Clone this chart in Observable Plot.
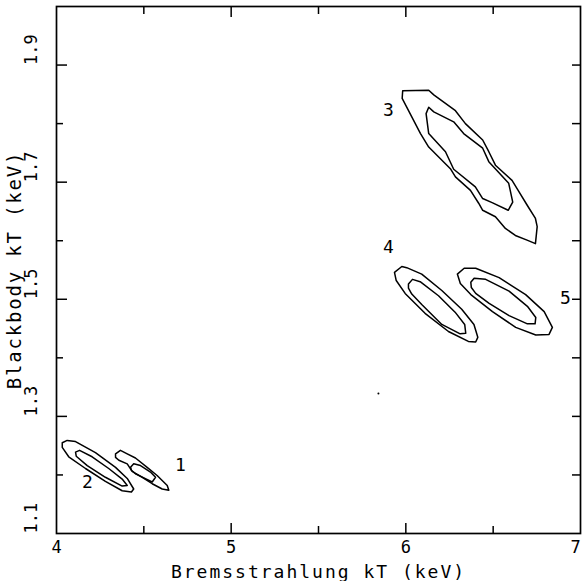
<!DOCTYPE html>
<html>
<head>
<meta charset="utf-8">
<script src="https://cdn.jsdelivr.net/npm/d3@7"></script>
<script src="https://cdn.jsdelivr.net/npm/@observablehq/plot@0.6"></script>
<style>
  html, body { margin: 0; padding: 0; background: #fff; }
  #chart svg { display: block; }
</style>
</head>
<body>
<div id="chart"></div>
<script>
// Confidence contours: [Bremsstrahlung kT, Blackbody kT] (keV)
const c1Outer = [[4.338,1.236],[4.366,1.242],[4.405,1.236],[4.452,1.229],[4.519,1.213],[4.576,1.199],[4.634,1.182],[4.643,1.174],[4.605,1.176],[4.548,1.185],[4.491,1.196],[4.433,1.206],[4.405,1.219],[4.357,1.225],[4.338,1.230]];
const c1Inner = [[4.424,1.213],[4.442,1.219],[4.481,1.216],[4.538,1.205],[4.567,1.196],[4.548,1.188],[4.500,1.195],[4.452,1.202],[4.429,1.208]];
const c2Outer = [[4.033,1.255],[4.061,1.259],[4.109,1.257],[4.223,1.238],[4.338,1.213],[4.405,1.194],[4.442,1.176],[4.429,1.171],[4.376,1.173],[4.280,1.189],[4.166,1.211],[4.070,1.231],[4.033,1.247]];
const c2Inner = [[4.109,1.239],[4.132,1.242],[4.204,1.231],[4.299,1.211],[4.376,1.193],[4.405,1.182],[4.376,1.181],[4.280,1.196],[4.176,1.216],[4.113,1.232]];
const c3Outer = [[5.982,1.856],[6.131,1.857],[6.160,1.849],[6.284,1.822],[6.341,1.800],[6.440,1.772],[6.475,1.752],[6.513,1.729],[6.608,1.703],[6.643,1.686],[6.694,1.661],[6.742,1.638],[6.752,1.624],[6.742,1.595],[6.694,1.601],[6.627,1.609],[6.570,1.621],[6.513,1.641],[6.440,1.652],[6.417,1.664],[6.370,1.686],[6.284,1.709],[6.255,1.723],[6.131,1.760],[6.084,1.783],[5.979,1.843]];
const c3Inner = [[6.131,1.828],[6.160,1.820],[6.274,1.803],[6.331,1.783],[6.440,1.758],[6.475,1.735],[6.589,1.698],[6.612,1.666],[6.586,1.652],[6.494,1.665],[6.440,1.672],[6.398,1.692],[6.274,1.722],[6.227,1.752],[6.131,1.783],[6.116,1.817]];
const c4Outer = [[5.935,1.546],[5.977,1.556],[6.005,1.554],[6.091,1.543],[6.206,1.515],[6.320,1.483],[6.390,1.457],[6.412,1.435],[6.400,1.427],[6.358,1.428],[6.244,1.445],[6.110,1.476],[5.996,1.510],[5.945,1.532]];
const c4Inner = [[6.015,1.526],[6.038,1.534],[6.082,1.530],[6.187,1.506],[6.282,1.478],[6.337,1.457],[6.343,1.442],[6.311,1.441],[6.206,1.457],[6.091,1.491],[6.034,1.509],[6.015,1.519]];
const c5Outer = [[6.295,1.543],[6.334,1.553],[6.400,1.553],[6.534,1.537],[6.686,1.508],[6.792,1.479],[6.839,1.452],[6.820,1.440],[6.744,1.439],[6.629,1.452],[6.496,1.479],[6.372,1.508],[6.312,1.527]];
const c5Inner = [[6.372,1.529],[6.391,1.536],[6.457,1.534],[6.591,1.514],[6.696,1.488],[6.744,1.469],[6.740,1.458],[6.696,1.458],[6.591,1.472],[6.477,1.493],[6.400,1.510],[6.375,1.520]];

const contourNames = ["1o","1i","2o","2i","3o","3i","4o","4i","5o","5i"];
const contourPoints = [c1Outer,c1Inner,c2Outer,c2Inner,c3Outer,c3Inner,c4Outer,c4Inner,c5Outer,c5Inner];

// Contour labels
const labelText = ["1","2","3","4","5"];
const labelX = [4.710, 4.177, 5.900, 5.900, 6.914];
const labelY = [1.216, 1.187, 1.823, 1.589, 1.502];

// stray point in the original
const strayX = [5.843];
const strayY = [1.339];

// Axis ticks
const xDomain = [4, 7];
const yDomain = [1.1, 2.0];
const xLabelTicks = [4, 5, 6];
const xEdgeLabelTicks = [7];
const xMajorTicks = [5, 6];
const xMinorTicks = [4.5, 5.5, 6.5];
const yLabelTicks = [1.1, 1.3, 1.5, 1.7, 1.9];
const yMajorTicks = [1.3, 1.5, 1.7, 1.9];
const yMinorTicks = [1.2, 1.4, 1.6, 1.8];
const yRightTicks = [1.2, 1.3, 1.4, 1.5, 1.6, 1.7, 1.8, 1.9];

const xTitle = "Bremsstrahlung kT (keV)";
const yTitle = "Blackbody kT (keV)";

const contourRows = contourNames.flatMap((name, i) =>
  contourPoints[i].map(([x, y]) => ({name, x, y})));
const labelRows = labelText.map((t, i) => ({t, x: labelX[i], y: labelY[i]}));
const strayRows = strayX.map((x, i) => ({x, y: strayY[i]}));

const FONT = "DejaVu Sans Mono";
const blank = () => "";

const chart = Plot.plot({
  width: 582,
  height: 581,
  marginLeft: 56,
  marginRight: 2,
  marginTop: 6,
  marginBottom: 48,
  style: {fontFamily: FONT, background: "#fff", color: "#000", overflow: "visible"},
  x: {domain: xDomain},
  y: {domain: yDomain},
  marks: [
    Plot.frame({stroke: "#000", strokeWidth: 1.7}),
    // inner tick marks
    Plot.axisX(xMajorTicks, {anchor: "bottom", tickSize: -10, tickFormat: blank, label: null, strokeWidth: 1.5}),
    Plot.axisX(xMinorTicks, {anchor: "bottom", tickSize: -7, tickFormat: blank, label: null, strokeWidth: 1.5}),
    Plot.axisX(xMajorTicks, {anchor: "top", tickSize: -10, tickFormat: blank, label: null, strokeWidth: 1.5}),
    Plot.axisX(xMinorTicks, {anchor: "top", tickSize: -7, tickFormat: blank, label: null, strokeWidth: 1.5}),
    Plot.axisY(yMajorTicks, {anchor: "left", tickSize: -11, tickFormat: blank, label: null, strokeWidth: 1.5}),
    Plot.axisY(yMinorTicks, {anchor: "left", tickSize: -7, tickFormat: blank, label: null, strokeWidth: 1.5}),
    Plot.axisY(yRightTicks, {anchor: "right", tickSize: -9, tickFormat: blank, label: null, strokeWidth: 1.5}),
    // tick labels
    Plot.text(xLabelTicks, {x: d => d, frameAnchor: "bottom", dy: 19, text: d => String(d), fontSize: 17, fill: "#000", textAnchor: "middle"}),
    Plot.text(xEdgeLabelTicks, {x: d => d, frameAnchor: "bottom", dy: 19, dx: -5, text: d => String(d), fontSize: 17, fill: "#000", textAnchor: "middle"}),
    Plot.text(yLabelTicks, {y: d => d, frameAnchor: "left", dx: -25, rotate: -90, textAnchor: "start", text: d => d.toFixed(1), fontSize: 17, fill: "#000"}),
    // axis titles
    Plot.text([xTitle], {frameAnchor: "bottom", dy: 44, textAnchor: "middle", text: d => d, fontSize: 18, fill: "#000"}),
    Plot.text([yTitle], {frameAnchor: "left", dx: -42, rotate: -90, textAnchor: "middle", text: d => d, fontSize: 19, fill: "#000"}),
    // contours
    Plot.line(contourRows, {x: "x", y: "y", z: "name", curve: "linear-closed", stroke: "#000", strokeWidth: 1.5}),
    Plot.text(labelRows, {x: "x", y: "y", text: "t", fontSize: 18, fill: "#000"}),
    Plot.dot(strayRows, {x: "x", y: "y", r: 1, fill: "#000", stroke: null})
  ]
});
// wider plotter-style letter spacing on the axis titles
d3.select(chart).selectAll("text")
  .filter(function() { return this.textContent === xTitle; })
  .attr("letter-spacing", "2px");
d3.select(chart).selectAll("text")
  .filter(function() { return this.textContent === yTitle; })
  .attr("letter-spacing", "1.8px");
document.getElementById("chart").appendChild(chart);
</script>
</body>
</html>
